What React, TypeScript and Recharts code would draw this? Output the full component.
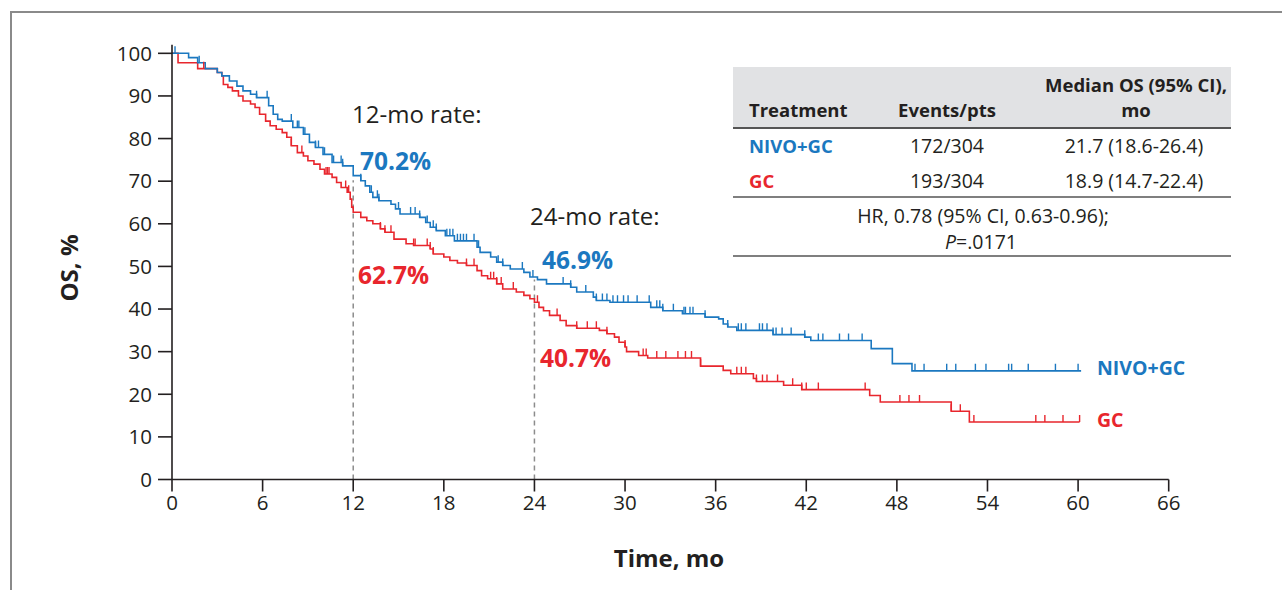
import React from "react";
import { LineChart, Line, XAxis, YAxis, ReferenceLine } from "recharts";

// ---------- data ----------
const xTicks = [0, 6, 12, 18, 24, 30, 36, 42, 48, 54, 60, 66];
const yTicks = [0, 10, 20, 30, 40, 50, 60, 70, 80, 90, 100];

// Kaplan-Meier step points [month, OS %]
const nivoSteps: [number, number][] = [
  [0, 100], [1.1, 99.0], [1.7, 97.8], [2.2, 96.4], [3.0, 95.5], [3.3, 94.7], [3.8, 93.5], [4.3, 92.3],
  [4.7, 91.2], [5.2, 90.4], [5.6, 89.6], [6.4, 87.7], [6.7, 85.7], [7.0, 84.5], [7.3, 84.1], [8.0, 82.6],
  [8.7, 81.0], [9.1, 79.1], [9.5, 77.9], [10.0, 76.3], [10.6, 74.4], [11.3, 73.6], [12.0, 71.3], [12.5, 70.1],
  [12.8, 68.9], [13.1, 67.4], [13.3, 66.2], [13.7, 65.4], [14.5, 64.6], [14.8, 63.5], [15.1, 62.3], [16.4, 61.5],
  [16.8, 60.3], [17.1, 59.2], [17.5, 58.4], [18.1, 57.2], [18.7, 56.0], [20.2, 54.5], [20.4, 53.3], [21.1, 52.2],
  [21.5, 51.0], [21.9, 50.2], [22.4, 49.4], [23.3, 48.6], [23.7, 47.5], [24.2, 46.9], [24.8, 45.9], [26.4, 45.1],
  [26.8, 44.0], [27.9, 42.8], [28.1, 42.0], [29.0, 41.6], [31.7, 40.4], [32.5, 39.6], [33.8, 38.9], [35.3, 38.1],
  [36.2, 37.7], [36.5, 36.5], [36.8, 35.8], [37.4, 35.0], [39.8, 34.0], [41.9, 33.4], [42.3, 32.6], [46.3, 30.7],
  [47.7, 27.2], [49.0, 25.5], [60.2, 25.5],
];
const nivoCensor: number[] = [
  0.2, 1.8, 5.6, 6.3, 7.9, 8.3, 8.4, 8.8, 9.5, 9.7, 10.1, 10.7, 11.2, 11.3, 12.5, 13.2, 13.6, 13.7, 15.0, 15.8,
  16.1, 16.4, 16.9, 17.3, 17.5, 18.2, 18.4, 18.6, 18.9, 19.1, 19.3, 19.5, 20.0, 20.3, 21.6, 21.9, 23.2, 23.9,
  25.9, 26.4, 27.4, 28.1, 28.5, 28.8, 29.2, 29.5, 29.9, 30.2, 30.8, 31.6, 32.1, 32.3, 32.5, 33.2, 33.9, 34.0,
  34.3, 34.5, 35.3, 36.8, 37.5, 37.7, 38.0, 38.9, 39.1, 39.4, 39.8, 40.0, 40.4, 41.0, 41.9, 42.8, 43.1, 44.2,
  44.8, 45.7, 49.2, 49.8, 51.3, 51.9, 53.2, 53.9, 55.4, 55.6, 56.7, 58.5, 60.0,
];

const gcSteps: [number, number][] = [
  [0, 100], [0.4, 97.8], [1.7, 96.4], [3.0, 95.5], [3.3, 94.7], [3.4, 92.7], [3.7, 92.0], [4.0, 91.2],
  [4.4, 90.0], [4.7, 88.8], [5.2, 88.1], [5.5, 87.3], [5.8, 85.7], [6.2, 84.1], [6.5, 83.0], [6.9, 82.2],
  [7.3, 81.4], [7.6, 80.3], [7.9, 78.3], [8.3, 76.7], [8.7, 75.9], [9.0, 74.8], [9.4, 74.0], [9.8, 72.8],
  [10.1, 71.7], [10.6, 70.9], [10.9, 69.7], [11.2, 68.5], [11.6, 67.4], [11.8, 65.8], [11.9, 63.9], [12.0, 62.7],
  [12.5, 61.5], [12.9, 60.7], [13.3, 60.0], [13.8, 58.8], [14.1, 58.0], [14.7, 56.4], [15.5, 55.3], [16.0, 54.9],
  [17.1, 54.1], [17.3, 52.9], [18.0, 52.2], [18.4, 51.4], [18.9, 50.8], [19.5, 50.2], [20.2, 49.0], [20.5, 47.8],
  [20.9, 47.1], [21.5, 45.9], [21.9, 44.7], [22.8, 44.0], [23.3, 43.2], [23.7, 42.4], [24.0, 41.6], [24.3, 40.4],
  [24.6, 39.6], [25.0, 38.5], [25.7, 37.3], [26.1, 36.1], [26.8, 35.5], [28.3, 35.0], [28.8, 34.2], [29.3, 33.4],
  [29.6, 32.2], [30.0, 31.1], [30.1, 30.0], [30.9, 29.1], [31.5, 28.5], [35.0, 26.6], [36.5, 25.6], [37.0, 24.8],
  [38.5, 23.7], [38.7, 23.0], [40.5, 22.1], [41.7, 21.1], [46.2, 19.7], [46.9, 18.2], [51.6, 16.0], [52.8, 13.5],
  [60.1, 13.5],
];
const gcCensor: number[] = [
  2.1, 7.9, 8.6, 10.2, 10.3, 10.4, 11.5, 11.7, 13.8, 14.1, 14.5, 16.0, 16.1, 16.9, 17.1, 17.3, 19.5, 20.0, 21.1,
  21.3, 21.5, 21.8, 22.6, 24.2, 25.5, 26.8, 27.5, 28.1, 28.8, 30.0, 31.2, 31.4, 32.1, 32.7, 33.5, 34.0, 34.4,
  35.0, 37.4, 37.7, 38.0, 38.7, 39.1, 39.4, 40.1, 41.1, 41.7, 42.0, 42.8, 45.9, 48.2, 48.8, 49.5, 51.6, 52.2,
  53.1, 57.2, 57.8, 59.0, 60.1,
];

const rateMonths = [12, 24];
const nivoRates = [70.2, 46.9];
const gcRates = [62.7, 40.7];

const tableRows = [
  { name: "NIVO+GC", events: "172/304", median: "21.7 (18.6-26.4)" },
  { name: "GC", events: "193/304", median: "18.9 (14.7-22.4)" },
];

// ---------- style ----------
const BLUE = "#1b78c0";
const RED = "#e8262d";
const INK = "#231f20";
const FONT = "'Open Sans', 'Noto Sans', sans-serif";

type Pt = { t: number; v: number; c: boolean };
function buildSeries(steps: [number, number][], censor: number[]): Pt[] {
  const pts: Pt[] = steps.map(([t, v]) => ({ t, v, c: false }));
  for (const ct of censor) {
    let v = steps[0][1];
    for (const [t, sv] of steps) if (t <= ct) v = sv;
    pts.push({ t: ct, v, c: true });
  }
  pts.sort((a, b) => a.t - b.t || (a.c ? 1 : 0) - (b.c ? 1 : 0));
  return pts;
}

const nivoData = buildSeries(nivoSteps, nivoCensor);
const gcData = buildSeries(gcSteps, gcCensor);

const censorDot = (color: string) => (props: any) => {
  const { cx, cy, payload, index } = props;
  if (!payload || !payload.c || cx == null || cy == null) return <g key={`d${index}`} />;
  return (
    <line key={`d${index}`} x1={cx} x2={cx} y1={cy} y2={cy - 7} stroke={color} strokeWidth={1.4} />
  );
};

export default function App() {
  const txt = { fontFamily: FONT, fill: INK } as const;
  const body = 19.5;
  return (
    <div style={{ position: "absolute", left: 0, top: 0, width: 1282, height: 590, overflow: "hidden", background: "#fff" }}>
      <div
        style={{
          position: "absolute", left: 10, top: 11, width: 1300, height: 620,
          borderLeft: "2px solid #8a8a8a", borderTop: "2px solid #8a8a8a",
        }}
      />
      <div style={{ position: "absolute", left: 0, top: 0 }}>
        <LineChart width={1282} height={590} margin={{ top: 44.8, right: 113.3, bottom: 80.5, left: 112 }}>
          <XAxis
            dataKey="t" type="number" domain={[0, 66]} ticks={xTicks} interval={0}
            axisLine={{ stroke: INK, strokeWidth: 1.6 }} tickLine={{ stroke: INK, strokeWidth: 1.6 }}
            tickSize={12} tickMargin={4} height={30}
            tick={{ fontSize: 20.5, fontFamily: FONT, fill: INK }}
            allowDataOverflow
          />
          <YAxis
            dataKey="v" type="number" domain={[0, 102]} ticks={yTicks} interval={0}
            axisLine={{ stroke: INK, strokeWidth: 1.6 }} tickLine={{ stroke: INK, strokeWidth: 1.6 }}
            tickSize={14} tickMargin={6} width={60}
            tick={{ fontSize: 20.5, fontFamily: FONT, fill: INK }}
            allowDataOverflow
          />
          {rateMonths.map((m, i) => (
            <ReferenceLine
              key={`r${m}`}
              segment={[{ x: m, y: 0 }, { x: m, y: nivoRates[i] }]}
              stroke="#8c8c8c" strokeWidth={1.5} strokeDasharray="5 4"
            />
          ))}
          <Line
            data={gcData} dataKey="v" type="stepAfter" stroke={RED} strokeWidth={1.6}
            dot={censorDot(RED)} activeDot={false} isAnimationActive={false}
          />
          <Line
            data={nivoData} dataKey="v" type="stepAfter" stroke={BLUE} strokeWidth={1.6}
            dot={censorDot(BLUE)} activeDot={false} isAnimationActive={false}
          />
        </LineChart>
      </div>
      <svg width={1282} height={590} style={{ position: "absolute", left: 0, top: 0, pointerEvents: "none" }}>
        {/* axis titles */}
        <text x={669} y={567} textAnchor="middle" fontSize={24} fontWeight={700} {...txt}>Time, mo</text>
        <text x={78} y={268} textAnchor="middle" fontSize={24} fontWeight={700} transform="rotate(-90 78 268)" {...txt}>OS, %</text>

        {/* rate annotations */}
        <text x={352} y={123} fontSize={24} {...txt}>{`${rateMonths[0]}-mo rate:`}</text>
        <text x={360} y={170} fontSize={24.5} fontWeight={700} fontFamily={FONT} fill={BLUE}>{`${nivoRates[0]}%`}</text>
        <text x={358} y={284} fontSize={24.5} fontWeight={700} fontFamily={FONT} fill={RED}>{`${gcRates[0]}%`}</text>
        <text x={530} y={225} fontSize={24} {...txt}>{`${rateMonths[1]}-mo rate:`}</text>
        <text x={542} y={268.5} fontSize={24.5} fontWeight={700} fontFamily={FONT} fill={BLUE}>{`${nivoRates[1]}%`}</text>
        <text x={540} y={367} fontSize={24.5} fontWeight={700} fontFamily={FONT} fill={RED}>{`${gcRates[1]}%`}</text>

        {/* curve labels */}
        <text x={1097} y={375} fontSize={19.5} fontWeight={700} fontFamily={FONT} fill={BLUE}>NIVO+GC</text>
        <text x={1097} y={427} fontSize={19.5} fontWeight={700} fontFamily={FONT} fill={RED}>GC</text>

        {/* table */}
        <rect x={733} y={67} width={498} height={60} fill="#e1e2e4" />
        <line x1={733} x2={1231} y1={128} y2={128} stroke="#555" strokeWidth={2} />
        <line x1={733} x2={1231} y1={197} y2={197} stroke="#555" strokeWidth={1.5} />
        <line x1={733} x2={1231} y1={256} y2={256} stroke="#555" strokeWidth={1.5} />
        <text x={749} y={117} fontSize={18.5} fontWeight={700} {...txt}>Treatment</text>
        <text x={947} y={117} fontSize={18.5} fontWeight={700} textAnchor="middle" {...txt}>Events/pts</text>
        <text x={1136} y={92} fontSize={18.5} fontWeight={700} textAnchor="middle" {...txt}>Median OS (95% CI),</text>
        <text x={1136} y={117} fontSize={18.5} fontWeight={700} textAnchor="middle" {...txt}>mo</text>
        {tableRows.map((r, i) => (
          <g key={r.name}>
            <text x={749} y={153 + i * 35} fontSize={18.5} fontWeight={700} fontFamily={FONT} fill={i === 0 ? BLUE : RED}>{r.name}</text>
            <text x={947} y={153 + i * 35} fontSize={body} textAnchor="middle" {...txt}>{r.events}</text>
            <text x={1134} y={153 + i * 35} fontSize={body} textAnchor="middle" {...txt}>{r.median}</text>
          </g>
        ))}
        <text x={983} y={223} fontSize={body} textAnchor="middle" {...txt}>HR, 0.78 (95% CI, 0.63-0.96);</text>
        <text x={981} y={248.5} fontSize={body} textAnchor="middle" {...txt}>
          <tspan fontStyle="italic">P</tspan>=.0171
        </text>
      </svg>
    </div>
  );
}
